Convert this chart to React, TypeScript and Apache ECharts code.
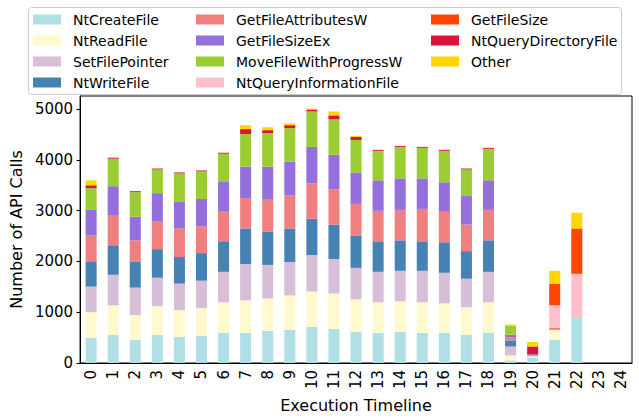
import React, { useEffect, useRef } from "react";
import * as echarts from "echarts";

const categories = ["0","1","2","3","4","5","6","7","8","9","10","11","12","13","14","15","16","17","18","19","20","21","22","23","24"];

const seriesNames = [
  "NtCreateFile",
  "NtReadFile",
  "SetFilePointer",
  "NtWriteFile",
  "GetFileAttributesW",
  "GetFileSizeEx",
  "MoveFileWithProgressW",
  "NtQueryInformationFile",
  "GetFileSize",
  "NtQueryDirectoryFile",
  "Other",
];

const seriesColors = [
  "#B0E0E6", "#FFFACD", "#D8BFD8", "#4682B4", "#F08080", "#9370DB",
  "#9ACD32", "#FFC0CB", "#FF4500", "#DC143C", "#FFD700",
];

const ntCreateFile = [500, 556, 459, 556, 517, 537, 595, 595, 634, 653, 711, 672, 614, 595, 614, 595, 595, 556, 595, 50, 110, 459, 886, 0, 0];
const ntReadFile = [500, 581, 484, 562, 524, 543, 601, 639, 639, 678, 697, 698, 639, 601, 601, 601, 581, 543, 601, 100, 20, 194, 0, 0, 0];
const setFilePointer = [505, 601, 543, 562, 523, 542, 600, 717, 659, 659, 718, 679, 621, 600, 601, 620, 601, 562, 600, 175, 15, 0, 0, 0, 0];
const ntWriteFile = [485, 582, 504, 563, 524, 543, 602, 699, 660, 660, 717, 678, 640, 602, 601, 582, 601, 543, 621, 120, 10, 0, 0, 0, 0];
const getFileAttributesW = [523, 581, 427, 542, 562, 524, 581, 600, 639, 658, 697, 698, 620, 600, 600, 638, 601, 523, 600, 55, 0, 39, 0, 0, 0];
const getFileSizeEx = [504, 582, 465, 561, 523, 542, 601, 620, 639, 659, 718, 678, 620, 601, 620, 601, 581, 562, 582, 58, 20, 0, 0, 0, 0];
const moveFileWithProgressW = [426, 542, 484, 466, 562, 543, 543, 640, 659, 659, 697, 698, 640, 581, 621, 602, 620, 523, 620, 177, 0, 0, 0, 0, 0];
const ntQueryInformationFile = [0, 0, 0, 0, 0, 0, 0, 0, 0, 0, 0, 0, 0, 0, 0, 0, 0, 0, 0, 0, 0, 445, 871, 0, 0];
const getFileSize = [0, 0, 0, 0, 0, 0, 0, 0, 0, 0, 0, 0, 0, 0, 0, 0, 0, 0, 0, 0, 0, 427, 893, 0, 0];
const ntQueryDirectoryFile = [58, 20, 19, 19, 19, 19, 19, 98, 58, 59, 39, 77, 58, 20, 19, 19, 20, 19, 20, 0, 150, 0, 0, 0, 0];
const other = [97, 0, 0, 0, 0, 0, 0, 77, 58, 38, 20, 77, 19, 0, 0, 0, 0, 0, 0, 25, 91, 252, 310, 0, 0];

const seriesValues = [
  ntCreateFile, ntReadFile, setFilePointer, ntWriteFile, getFileAttributesW,
  getFileSizeEx, moveFileWithProgressW, ntQueryInformationFile, getFileSize,
  ntQueryDirectoryFile, other,
];

const yTicks = [0, 1000, 2000, 3000, 4000, 5000];

const FONT = "DejaVu Sans";

export default function App() {
  const ref = useRef<HTMLDivElement>(null);
  useEffect(() => {
    if (!ref.current) return;
    const chart = echarts.init(ref.current, undefined, { renderer: "svg" });
    const legendCommon = {
      orient: "vertical" as const,
      top: 9,
      itemWidth: 28,
      itemHeight: 10,
      itemGap: 0,
      padding: 0,
      icon: "rect",
      selectedMode: false,
      z: 10,
      textStyle: {
        fontFamily: FONT,
        fontSize: 14,
        lineHeight: 21,
        color: "#000",
        padding: [0, 0, 0, 7],
      },
    };
    chart.setOption({
      animation: false,
      textStyle: { fontFamily: FONT },
      grid: {
        left: 74,
        right: 7,
        top: 96,
        bottom: 51,
        show: true,
        borderColor: "#000",
        borderWidth: 1,
        backgroundColor: "transparent",
      },
      graphic: [
        {
          type: "rect",
          z: 5,
          shape: { x: 28.5, y: 7.5, width: 593, height: 87, r: 3 },
          style: { fill: "rgba(255,255,255,0.8)", stroke: "#cccccc", lineWidth: 1 },
        },
      ],
      legend: [
        { ...legendCommon, left: 33, data: seriesNames.slice(0, 4) },
        { ...legendCommon, left: 196, data: seriesNames.slice(4, 8) },
        { ...legendCommon, left: 431, data: seriesNames.slice(8, 11) },
      ],
      xAxis: {
        type: "category",
        data: categories,
        axisLine: { lineStyle: { color: "#000", width: 1 } },
        axisTick: { alignWithLabel: true, length: 3.5, lineStyle: { color: "#000" } },
        axisLabel: { rotate: 90, fontSize: 15, color: "#000", margin: 7, fontFamily: FONT },
        name: "Execution Timeline",
        nameLocation: "middle",
        nameGap: 24,
        nameTextStyle: { fontSize: 16, color: "#000", fontFamily: FONT },
      },
      yAxis: {
        type: "value",
        min: 0,
        max: 5260,
        interval: 1000,
        splitLine: { show: false },
        axisLine: { show: true, lineStyle: { color: "#000", width: 1 } },
        axisTick: { show: true, length: 3.5, lineStyle: { color: "#000" } },
        axisLabel: {
          fontSize: 15,
          color: "#000",
          margin: 7,
          fontFamily: FONT,
          showMaxLabel: false,
          formatter: (v: number) => (yTicks.includes(v) ? String(v) : ""),
        },
        name: "Number of API Calls",
        nameLocation: "middle",
        nameGap: 54,
        nameTextStyle: { fontSize: 16, color: "#000", fontFamily: FONT },
      },
      series: seriesNames.map((name, i) => ({
        name,
        type: "bar",
        stack: "total",
        barWidth: "50%",
        silent: true,
        itemStyle: { color: seriesColors[i] },
        emphasis: { disabled: true },
        data: seriesValues[i],
      })),
    });
    return () => chart.dispose();
  }, []);
  return (
    <div
      ref={ref}
      style={{ position: "absolute", left: 0, top: 0, width: 639, height: 418 }}
    />
  );
}
